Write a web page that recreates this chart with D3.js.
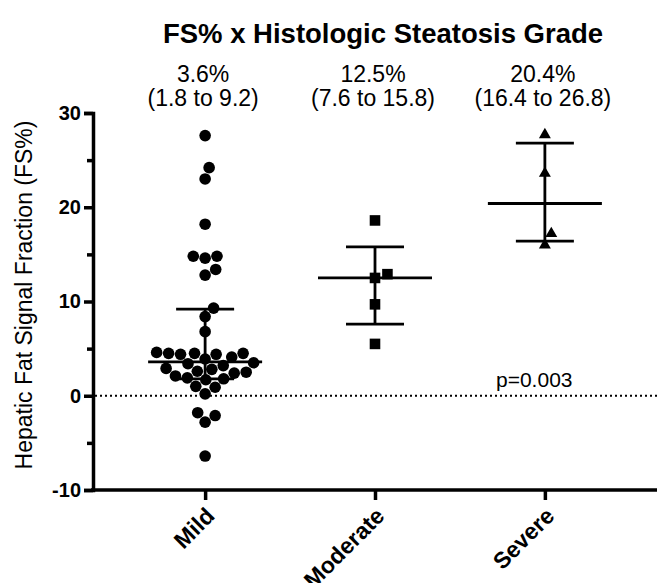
<!DOCTYPE html>
<html>
<head>
<meta charset="utf-8">
<script src="https://cdn.jsdelivr.net/npm/d3@7"></script>
<style>
  body { margin: 0; background: #fff; }
  svg text { font-family: "Liberation Sans", Arial, Helvetica, sans-serif; fill: #000; }
</style>
</head>
<body>
<svg id="chart" width="665" height="583"></svg>
<script>
// grades on the x axis
var grades = ["Mild", "Moderate", "Severe"];

// FS% values per grade
var mildValues = [27.6, 24.2, 23.0, 18.2, 14.8, 14.8, 14.6, 13.4, 12.8, 9.3, 8.4, 6.8,
  4.4, 4.5, 4.5, 4.4, 4.5, 4.6, 3.9, 4.1, 3.4, 2.9, 2.6, 2.4, 2.1, 2.5, 2.8, 3.2, 3.5,
  1.8, 1.7, 1.9, 1.0, 0.9, 0.2, -1.8, -2.1, -2.8, -6.4];
var moderateValues = [18.6, 12.9, 12.5, 9.7, 5.5];
var severeValues = [27.7, 23.6, 17.2, 16.0];

// median and interquartile range printed above each group
var medians = [3.6, 12.5, 20.4];
var lowerQ = [1.8, 7.6, 16.4];
var upperQ = [9.2, 15.8, 26.8];

var yTicks = [-10, 0, 10, 20, 30];
var yMinorTicks = [-5, 5, 15, 25];
var pLabel = "p=0.003";

var svg = d3.select("#chart");

var x = d3.scalePoint().domain(grades).range([93, 657]).padding(0.66);
var y = d3.scaleLinear().domain([-10, 30]).range([490, 113]);

var groups = [
  { grade: "Mild", values: mildValues, shape: "circle", gap: 12 },
  { grade: "Moderate", values: moderateValues, shape: "square", gap: 13 },
  { grade: "Severe", values: severeValues, shape: "triangle", gap: 13 }
];

// simple beeswarm: push points sideways until they stop overlapping
function swarm(values, diam) {
  var pts = values.map(function(v) { return { v: v, y: y(v), dx: 0 }; })
    .sort(function(a, b) { return a.v - b.v; });
  var placed = [];
  pts.forEach(function(p) {
    var cands = [0];
    placed.forEach(function(q) {
      var dy = Math.abs(q.y - p.y);
      if (dy < diam) {
        var w = Math.sqrt(diam * diam - dy * dy);
        cands.push(q.dx + w, q.dx - w);
      }
    });
    cands.sort(function(a, b) { return Math.abs(a) - Math.abs(b); });
    for (var i = 0; i < cands.length; i++) {
      var c = cands[i];
      var ok = placed.every(function(q) {
        var dx = q.dx - c, dy = q.y - p.y;
        return dx * dx + dy * dy >= diam * diam - 0.01;
      });
      if (ok) { p.dx = c; break; }
    }
    placed.push(p);
  });
  return placed;
}

// zero reference line
svg.append("line")
  .attr("x1", 95).attr("x2", 657)
  .attr("y1", y(0)).attr("y2", y(0))
  .attr("stroke", "#000").attr("stroke-width", 2)
  .attr("stroke-dasharray", "2,3");

// points
groups.forEach(function(g) {
  var cx = x(g.grade);
  var pts = swarm(g.values, g.gap);
  var sym = g.shape === "square" ? d3.symbolSquare : d3.symbolTriangle;
  var size = g.shape === "square" ? 112 : 62;
  if (g.shape === "circle") {
    svg.append("g").selectAll("circle")
      .data(pts).enter().append("circle")
      .attr("cx", function(d) { return cx + d.dx; })
      .attr("cy", function(d) { return d.y; })
      .attr("r", 5.8)
      .attr("fill", "#000");
  } else {
    svg.append("g").selectAll("path")
      .data(pts).enter().append("path")
      .attr("d", d3.symbol().type(sym).size(size))
      .attr("transform", function(d) { return "translate(" + (cx + d.dx) + "," + d.y + ")"; })
      .attr("fill", "#000");
  }
});

// median and IQR bars
var bars = svg.append("g").attr("stroke", "#000").attr("stroke-width", 2.8);
grades.forEach(function(gr, i) {
  var cx = x(gr);
  bars.append("line").attr("x1", cx).attr("x2", cx)
    .attr("y1", y(lowerQ[i])).attr("y2", y(upperQ[i]));
  bars.append("line").attr("x1", cx - 57).attr("x2", cx + 57)
    .attr("y1", y(medians[i])).attr("y2", y(medians[i]));
  bars.append("line").attr("x1", cx - 29).attr("x2", cx + 29)
    .attr("y1", y(lowerQ[i])).attr("y2", y(lowerQ[i]));
  bars.append("line").attr("x1", cx - 29).attr("x2", cx + 29)
    .attr("y1", y(upperQ[i])).attr("y2", y(upperQ[i]));
});

// y axis
var yAxis = svg.append("g").attr("transform", "translate(93,0)")
  .call(d3.axisLeft(y).tickValues(yTicks).tickSize(9).tickPadding(3)
    .tickFormat(function(d) { return String(d); }));
yAxis.selectAll(".tick text").style("font-size", "20px").style("font-weight", "bold");
svg.append("g").attr("transform", "translate(93,0)")
  .call(d3.axisLeft(y).tickValues(yMinorTicks).tickSize(6).tickFormat(""))
  .select(".domain").remove();

// x axis
var xAxis = svg.append("g").attr("transform", "translate(0,490)")
  .call(d3.axisBottom(x).tickSize(10).tickSizeOuter(0));
xAxis.select(".domain").attr("d", "M91,0H657");
xAxis.selectAll(".tick text")
  .style("font-size", "23px").style("font-weight", "bold")
  .attr("text-anchor", "end")
  .attr("transform", "translate(-1,16) rotate(-45)")
  .attr("y", 0).attr("x", 0).attr("dy", "0.7em");

svg.selectAll(".domain, .tick line").attr("stroke", "#000").attr("stroke-width", 3.5);
svg.selectAll("g text").attr("font-family", null);

// y axis title
svg.append("text")
  .attr("transform", "translate(32,295) rotate(-90)")
  .attr("text-anchor", "middle")
  .style("font-size", "23px")
  .text("Hepatic Fat Signal Fraction (FS%)");

// chart title
svg.append("text")
  .attr("x", 383).attr("y", 43)
  .attr("text-anchor", "middle")
  .style("font-size", "27.5px").style("font-weight", "bold")
  .text("FS% x Histologic Steatosis Grade");

// median / IQR labels
grades.forEach(function(gr, i) {
  svg.append("text").attr("x", x(gr) - 2).attr("y", 82)
    .attr("text-anchor", "middle").style("font-size", "23px")
    .text(d3.format(".1f")(medians[i]) + "%");
  svg.append("text").attr("x", x(gr) - 2).attr("y", 106)
    .attr("text-anchor", "middle").style("font-size", "23px")
    .text("(" + lowerQ[i] + " to " + upperQ[i] + ")");
});

// p value
svg.append("text").attr("x", 496).attr("y", 387)
  .style("font-size", "21px").text(pLabel);
</script>
</body>
</html>
